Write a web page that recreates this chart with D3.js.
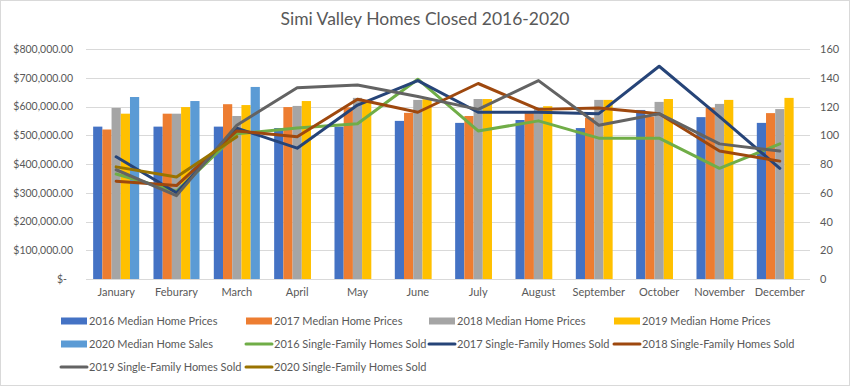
<!DOCTYPE html>
<html>
<head>
<meta charset="utf-8">
<script src="https://cdn.jsdelivr.net/npm/d3@7"></script>
<style>
  body { margin: 0; background: #fff; }
  svg { display: block; font-family: Lato, "Open Sans", sans-serif; }
</style>
</head>
<body>
<svg id="chart" width="850" height="386"></svg>
<script>
const months = ["January","Feburary","March","April","May","June","July","August","September","October","November","December"];

const prices2016 = [530000,530000,530000,525000,530000,550000,543000,553000,525000,588000,563000,543000];
const prices2017 = [520000,575000,608000,598000,597000,578000,567000,578000,561000,565000,596000,577000];
const prices2018 = [595000,575000,567000,602000,630000,623000,626000,597000,623000,616000,609000,591000];
const prices2019 = [575000,598000,605000,619000,620000,625000,626000,601000,623000,626000,623000,630000];
const sales2020  = [633000,619000,668000];

const sold2016 = [73,61,101,105,108,139,103,110,98,98,77,94];
const sold2017 = [85,60,105,91,121,138,116,116,115,148,113,77];
const sold2018 = [68,65,103,99,125,116,136,118,119,115,89,82];
const sold2019 = [76,58,107,133,135,127,118,138,107,115,94,89];
const sold2020 = [78,71,99];

const leftTicks = [0,100000,200000,300000,400000,500000,600000,700000,800000];
const rightTicks = [0,20,40,60,80,100,120,140,160];

const barSeries = [
  {name:"2016 Median Home Prices", values:prices2016, color:"#4472C4"},
  {name:"2017 Median Home Prices", values:prices2017, color:"#ED7D31"},
  {name:"2018 Median Home Prices", values:prices2018, color:"#A5A5A5"},
  {name:"2019 Median Home Prices", values:prices2019, color:"#FFC000"},
  {name:"2020 Median Home Sales",  values:sales2020,  color:"#5B9BD5"}
];
const lineSeries = [
  {name:"2016 Single-Family Homes Sold", values:sold2016, color:"#70AD47"},
  {name:"2017 Single-Family Homes Sold", values:sold2017, color:"#264478"},
  {name:"2018 Single-Family Homes Sold", values:sold2018, color:"#9E480E"},
  {name:"2019 Single-Family Homes Sold", values:sold2019, color:"#636363"},
  {name:"2020 Single-Family Homes Sold", values:sold2020, color:"#997300"}
];

const svg = d3.select("#chart");
const L = 86, R = 810, T = 49, B = 279;

svg.append("rect").attr("x",0.5).attr("y",0.5).attr("width",849).attr("height",385)
  .attr("fill","#fff").attr("stroke","#d9d9d9");

svg.append("text").attr("x",425).attr("y",25).attr("text-anchor","middle")
  .attr("font-size",17.5).attr("fill","#595959").text("Simi Valley Homes Closed 2016-2020");

const x0 = d3.scaleBand().domain(months).range([L,R]).padding(0);
const bw = x0.bandwidth();
const gap = bw * 0.237;
const x1 = d3.scaleBand().domain(barSeries.map(s=>s.name)).range([gap/2, bw-gap/2]).padding(0);
const yL = d3.scaleLinear().domain([0,800000]).range([B,T]);
const yR = d3.scaleLinear().domain([0,160]).range([B,T]);

// gridlines
svg.append("g").selectAll("line").data(leftTicks).join("line")
  .attr("x1",L).attr("x2",R).attr("y1",d=>Math.round(yL(d))+0.5).attr("y2",d=>Math.round(yL(d))+0.5)
  .attr("stroke","#d9d9d9").attr("stroke-width",1);

// left axis
const fmt = d3.format("$,.2f");
const leftAxis = d3.axisLeft(yL).tickValues(leftTicks).tickSize(0).tickPadding(0)
  .tickFormat(d => d === 0 ? "$-" : fmt(d));
const gl = svg.append("g").attr("transform",`translate(73,0)`).call(leftAxis);
gl.select(".domain").remove();
gl.selectAll("text").attr("font-size",10.5).attr("fill","#595959").attr("font-family","Lato, sans-serif")
  .attr("dx", d => d === 0 ? -6 : 0);

// right axis
const rightAxis = d3.axisRight(yR).tickValues(rightTicks).tickSize(0).tickPadding(0);
const gr = svg.append("g").attr("transform",`translate(820,0)`).call(rightAxis);
gr.select(".domain").remove();
gr.selectAll("text").attr("font-size",11).attr("fill","#595959").attr("font-family","Lato, sans-serif");

// x axis labels
const bottomAxis = d3.axisBottom(x0).tickSize(0).tickPadding(0);
const gb = svg.append("g").attr("transform",`translate(0,${B+9})`).call(bottomAxis);
gb.select(".domain").remove();
gb.selectAll("text").attr("font-size",11).attr("fill","#595959").attr("font-family","Lato, sans-serif");

// bars
barSeries.forEach(s => {
  svg.append("g").selectAll("rect").data(s.values).join("rect")
    .attr("x",(d,i)=>x0(months[i])+x1(s.name))
    .attr("width",x1.bandwidth())
    .attr("y",d=>yL(d))
    .attr("height",d=>B-yL(d))
    .attr("fill",s.color);
});

// lines
const line = d3.line().x((d,i)=>x0(months[i])+bw/2).y(d=>yR(d));
lineSeries.forEach(s => {
  svg.append("path").datum(s.values).attr("d",line)
    .attr("fill","none").attr("stroke",s.color).attr("stroke-width",3)
    .attr("stroke-linejoin","round").attr("stroke-linecap","round");
});

// legend
const legendItems = [
  {s:barSeries[0],type:"bar"},{s:barSeries[1],type:"bar"},{s:barSeries[2],type:"bar"},{s:barSeries[3],type:"bar"},
  {s:barSeries[4],type:"bar"},{s:lineSeries[0],type:"line"},{s:lineSeries[1],type:"line"},{s:lineSeries[2],type:"line"},
  {s:lineSeries[3],type:"line"},{s:lineSeries[4],type:"line"}
];
const colX = [61,246,429,614];
const rowY = [321,344,367];
const lg = svg.append("g");
legendItems.forEach((it,i) => {
  const cx = colX[i%4], cy = rowY[Math.floor(i/4)];
  if (it.type === "bar") {
    lg.append("rect").attr("x",cx).attr("y",cy-3.5).attr("width",26).attr("height",7).attr("fill",it.s.color);
  } else {
    lg.append("line").attr("x1",cx).attr("x2",cx+26).attr("y1",cy).attr("y2",cy)
      .attr("stroke",it.s.color).attr("stroke-width",3).attr("stroke-linecap","round");
  }
  lg.append("text").attr("x",cx+28).attr("y",cy).attr("dy","0.35em")
    .attr("font-size",11).attr("fill","#595959").attr("font-family","Lato, sans-serif").text(it.s.name);
});
</script>
</body>
</html>
